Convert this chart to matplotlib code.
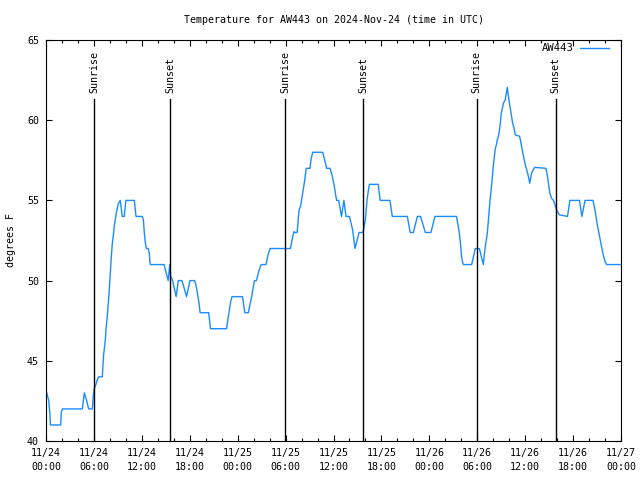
import matplotlib
matplotlib.use("Agg")
import matplotlib.pyplot as plt

# hours since 2024-11-24 00:00 UTC, temperature in degrees F
hours = [0.1, 0.35, 0.5, 0.55, 1.84, 1.92, 2.05, 4.55, 4.8, 5.1, 5.34, 5.8, 5.92, 6.05, 6.2, 6.35, 6.5, 6.6,
         7.05, 7.2, 7.43, 7.5, 7.67, 7.8, 7.92, 8.05, 8.18, 8.3, 8.43, 8.55, 8.67, 8.8, 8.93, 9.05, 9.3,
         9.55, 9.8, 10.0, 11.06, 11.27, 12.06, 12.19, 12.3, 12.43, 12.56, 12.8, 12.94, 13.0, 13.07,
         14.78, 14.9, 15.03, 15.15, 15.3, 15.5, 15.6, 15.85, 16.3, 16.56, 17.03, 17.6, 18.03, 18.6,
         18.78, 18.9, 19.03, 19.16, 19.3, 20.37, 20.6, 22.6, 22.83, 22.96, 23.13, 23.3, 24.6, 24.9,
         25.33, 25.75, 26.1, 26.35, 26.63, 26.9, 27.05, 27.55, 27.8, 28.05, 30.6, 30.9, 31.05, 31.2,
         31.45, 31.6, 31.7, 31.9, 32.0, 32.14, 32.27, 32.4, 32.56, 32.6, 33.06, 33.2, 33.4, 34.65,
         35.15, 35.56, 35.85, 35.98, 36.15, 36.28, 36.4, 36.65, 37.0, 37.3, 37.57, 38.0, 38.4, 38.7,
         39.2, 39.7, 39.99, 40.1, 40.2, 40.36, 40.5, 41.6, 41.85, 43.07, 43.36, 45.25, 45.6, 46.0,
         46.5, 46.9, 47.5, 48.2, 48.7, 51.4, 51.76, 51.9, 52.0, 52.1, 52.26, 53.3, 53.76, 54.26,
         54.76, 54.9, 55.0, 55.13, 55.26, 55.4, 55.5, 55.6, 55.76, 55.9, 56.0, 56.13, 56.26, 56.39,
         56.5, 56.64, 56.76, 56.89, 57.0, 57.14, 57.27, 57.5, 57.76, 58.0, 58.14, 58.27, 58.4, 58.6,
         58.77, 59.3, 59.4, 59.52, 59.64, 59.77, 59.9, 60.02, 60.2, 60.4, 60.57, 60.8, 61.0, 61.2,
         62.6, 62.73, 62.86, 62.98, 63.1, 63.23, 63.36, 63.55, 63.74, 63.95, 64.15, 64.3, 65.3,
         65.6, 66.8, 67.1, 67.5, 68.5, 68.78, 69.0, 69.28, 69.53, 69.78, 70.0, 70.2, 71.9]
temps = [43, 42.5, 41.6, 41, 41, 41.8, 42, 42, 43, 42.5, 42, 42, 42.8, 43.3, 43.45, 43.7, 43.9, 44,
         44, 45.3, 46.3, 46.9, 47.75, 48.6, 49.4, 50.45, 51.5, 52.3, 52.8, 53.4, 53.8, 54.2, 54.5, 54.8, 55,
         54, 54, 55, 55, 54, 54, 53.8, 53.05, 52.4, 52, 52, 51.7, 51.2, 51,
         51, 50.77, 50.5, 50.3, 50, 51, 50.3, 50, 49, 50, 50, 49, 50, 50,
         49.7, 49.4, 49, 48.6, 48, 48, 47, 47, 47.75, 48.2, 48.7, 49, 49, 48,
         48, 49, 50, 50, 50.55, 50.97, 51, 51, 51.6, 52, 52, 52.74, 53.05, 53,
         53, 53.9, 54.4, 54.7, 55.0, 55.4, 55.85, 56.27, 56.9, 57, 57, 57.6, 58, 58,
         57, 57, 56.5, 56.2, 55.75, 55.3, 55, 55, 54, 55, 54, 54, 53.15, 52,
         53, 53, 53.8, 54.4, 55.02, 55.6, 56, 56, 55, 55, 54, 54, 53, 53,
         54, 54, 53, 53, 54, 54, 52.95, 52.3, 51.7, 51.28, 51, 51, 52, 52,
         51, 51.7, 52.1, 52.53, 52.95, 53.8, 54.4, 55.0, 55.75, 56.48, 57.1, 57.7, 58.25, 58.45,
         58.77, 58.97, 59.3, 59.8, 60.43, 60.74, 61.05, 61.26, 62.05, 61.15, 60.74, 60.3, 59.9, 59.5,
         59.08, 59, 58.77, 58.45, 58.14, 57.8, 57.5, 57.2, 56.9, 56.5, 56.07, 56.7, 56.9, 57.06,
         57, 56.7, 56.27, 55.85, 55.44, 55.23, 55.09, 55, 54.7, 54.4, 54.2, 54.1, 54,
         55, 55, 54, 55, 55, 54.3, 53.57, 52.84, 52.2, 51.6, 51.2, 51, 51]

sunrise_hours = [6.0, 29.97, 53.93]
sunset_hours = [15.55, 39.75, 63.82]

tick_hours = [0, 6, 12, 18, 24, 30, 36, 42, 48, 54, 60, 66, 72]
tick_labels = ["11/24\n00:00", "11/24\n06:00", "11/24\n12:00", "11/24\n18:00",
               "11/25\n00:00", "11/25\n06:00", "11/25\n12:00", "11/25\n18:00",
               "11/26\n00:00", "11/26\n06:00", "11/26\n12:00", "11/26\n18:00",
               "11/27\n00:00"]

plt.rcParams['font.family'] = 'DejaVu Sans Mono'
plt.rcParams['font.size'] = 7.2

fig = plt.figure(figsize=(6.4, 4.8), dpi=100)
ax = fig.add_axes([46 / 640, 1 - 441 / 480, 575 / 640, 401 / 480])

ax.plot(hours, temps, color='#1a8cff', linewidth=1.0, label='AW443')

# sunrise / sunset markers
for h in sunrise_hours:
    ax.plot([h, h], [40, 61.3], color='black', linewidth=1.0)
    ax.text(h, 61.7, 'Sunrise', rotation=90, ha='center', va='bottom')
for h in sunset_hours:
    ax.plot([h, h], [40, 61.3], color='black', linewidth=1.0)
    ax.text(h, 61.7, 'Sunset', rotation=90, ha='center', va='bottom')

ax.set_xlim(0, 72)
ax.set_ylim(40, 65)
ax.set_xticks(tick_hours)
ax.set_xticklabels(tick_labels, linespacing=1.45)
ax.set_xticks(range(0, 73, 2), minor=True)
ax.set_yticks([40, 45, 50, 55, 60, 65])
ax.tick_params(direction='in', top=True, right=True, length=4, width=0.8, pad=5)
ax.tick_params(which='minor', direction='in', top=True, length=2.5, width=0.8)
for s in ax.spines.values():
    s.set_linewidth(0.8)

ax.set_ylabel('degrees F', labelpad=8)
ax.set_title('Temperature for AW443 on 2024-Nov-24 (time in UTC)', fontsize=7.2, pad=12)
ax.legend(loc='upper right', bbox_to_anchor=(0.983, 0.998), frameon=False, markerfirst=False,
          handlelength=2.7, borderaxespad=0, borderpad=0.25, handletextpad=0.6, fontsize=7.6)

fig.savefig('out.png', dpi=100)
